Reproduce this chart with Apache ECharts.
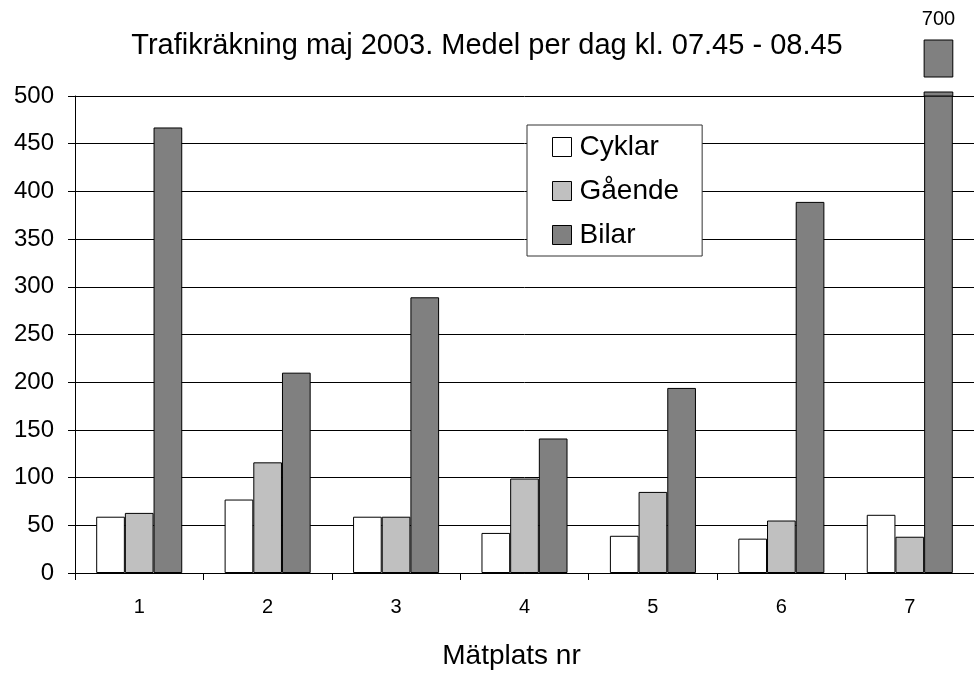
<!DOCTYPE html>
<html>
<head>
<meta charset="utf-8">
<script src="https://cdn.jsdelivr.net/npm/echarts@6/dist/echarts.min.js"></script>
<style>
    html, body { margin: 0; padding: 0; background: #fff; }
    #chart { width: 974px; height: 675px; }
</style>
</head>
<body>
<div id="chart"></div>
<script>
// data
const categories = ['1', '2', '3', '4', '5', '6', '7']
const cyklar = [59, 77, 59, 42, 39, 36, 61]
const gaende = [63, 116, 59, 99, 85, 55, 38]
const bilar = [467, 210, 289, 141, 194, 389, 700]
const yMax = 500
const yStep = 50

const catGap = 0.33
const FONT = 'Liberation Sans, Arial, sans-serif'

// bars that go past the axis top get a separate "break" piece above the plot
const broken = bilar.map((v, i) => v > yMax ? [i, v] : null).filter(d => d)

const barStyle = (color) => ({
    color: color,
    borderColor: '#000',
    borderWidth: 1
})

function renderBreak(params, api) {
    const cs = params.coordSys
    const cx = api.coord([api.value(0), 0])[0]
    const band = api.size([1, 0])[0]
    const bw = band * (1 - catGap) / 3
    const x0 = cx + band * (1 - catGap) / 2 - bw
    const st = { fill: '#808080', stroke: '#000', lineWidth: 1 }
    return {
        type: 'group',
        children: [
            { type: 'rect', shape: { x: x0, y: cs.y - 4, width: bw, height: 4 }, style: st },
            { type: 'rect', shape: { x: x0, y: cs.y - 56, width: bw, height: 37 }, style: st },
            {
                type: 'text',
                x: x0 + bw / 2,
                y: cs.y - 77,
                style: {
                    text: String(api.value(1)),
                    fill: '#000',
                    font: '20px ' + FONT,
                    align: 'center',
                    verticalAlign: 'middle'
                }
            }
        ]
    }
}

let option = {
    animation: false,
    backgroundColor: '#fff',
    textStyle: { fontFamily: FONT, color: '#000' },
    title: {
        text: 'Trafikräkning maj 2003. Medel per dag kl. 07.45 - 08.45',
        left: 'center',
        top: 31,
        padding: 0,
        textStyle: { fontFamily: FONT, fontSize: 29, fontWeight: 'normal', color: '#000' }
    },
    legend: {
        orient: 'vertical',
        left: 527,
        top: 125,
        data: ['Cyklar', 'Gående', 'Bilar'],
        icon: 'rect',
        itemWidth: 19,
        itemHeight: 19,
        itemGap: 14,
        padding: [7, 23, 6, 25],
        backgroundColor: '#fff',
        borderColor: '#333',
        borderWidth: 1,
        borderRadius: 0,
        itemStyle: { borderColor: '#000', borderWidth: 1 },
        textStyle: { fontFamily: FONT, fontSize: 28, color: '#000', lineHeight: 30, padding: [0, 0, 0, 3] }
    },
    grid: {
        left: 75,
        top: 96,
        right: -4,
        bottom: 102,
        containLabel: false
    },
    xAxis: {
        type: 'category',
        data: categories,
        name: 'Mätplats nr',
        nameLocation: 'middle',
        nameGap: 69,
        nameTextStyle: { fontFamily: FONT, fontSize: 28, color: '#000', padding: [0, 26, 0, 0] },
        axisLine: { lineStyle: { color: '#000', width: 1 } },
        axisTick: { show: true, alignWithLabel: false, length: 7, lineStyle: { color: '#000' } },
        axisLabel: { fontFamily: FONT, fontSize: 20, color: '#000', margin: 24 },
        splitLine: { show: false }
    },
    yAxis: {
        type: 'value',
        min: 0,
        max: yMax,
        interval: yStep,
        axisLine: { show: true, lineStyle: { color: '#000', width: 1 } },
        axisTick: { show: true, length: 7, lineStyle: { color: '#000' } },
        axisLabel: { fontFamily: FONT, fontSize: 24, color: '#000', margin: 21 },
        splitLine: { show: true, lineStyle: { color: '#000', width: 1 } }
    },
    series: [
        {
            name: 'Cyklar',
            type: 'bar',
            barGap: '0%',
            barCategoryGap: (catGap * 100) + '%',
            itemStyle: barStyle('#ffffff'),
            data: cyklar
        },
        {
            name: 'Gående',
            type: 'bar',
            barGap: '0%',
            barCategoryGap: (catGap * 100) + '%',
            itemStyle: barStyle('#c0c0c0'),
            data: gaende
        },
        {
            name: 'Bilar',
            type: 'bar',
            barGap: '0%',
            barCategoryGap: (catGap * 100) + '%',
            clip: true,
            itemStyle: barStyle('#808080'),
            data: bilar
        },
        {
            name: 'Bilar-break',
            type: 'custom',
            silent: true,
            clip: false,
            z: 5,
            renderItem: renderBreak,
            encode: { x: 0, y: 1 },
            data: broken
        }
    ]
}

const myChart = echarts.init(document.getElementById('chart'), null, { renderer: 'canvas' })
myChart.setOption(option)
</script>
</body>
</html>
